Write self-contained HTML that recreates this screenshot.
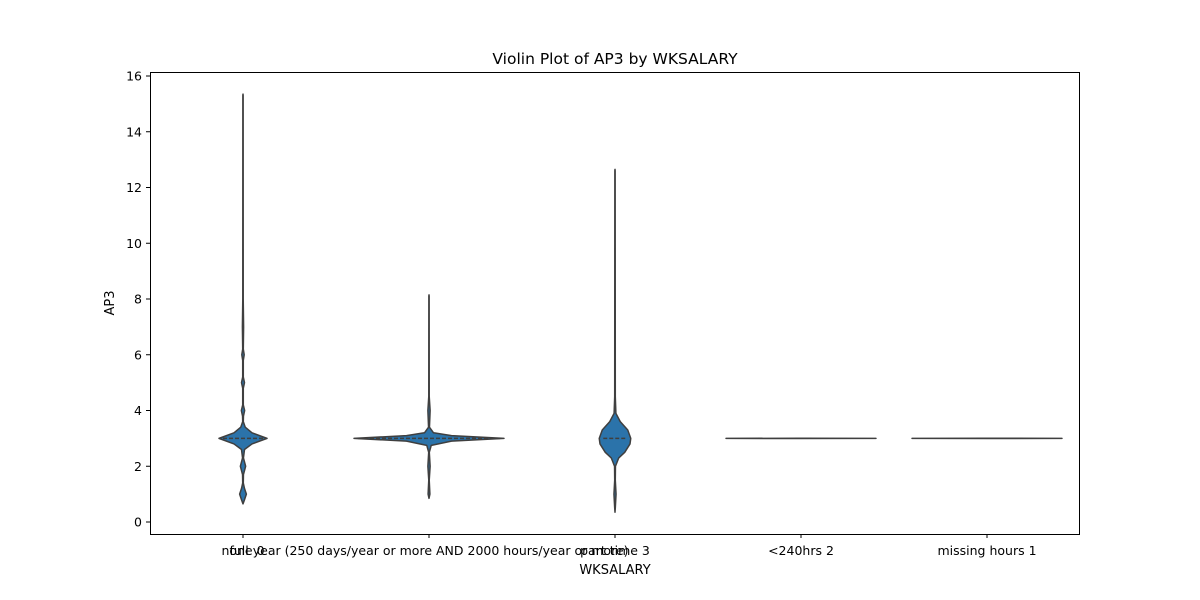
<!DOCTYPE html>
<html><head><meta charset="utf-8"><style>
body{margin:0;background:#fff;}
svg{display:block;font-family:"DejaVu Sans","Liberation Sans",sans-serif;}
</style></head><body>
<svg id="chart" width="1200" height="600">
<rect x="0" y="0" width="1200" height="600" fill="#fff"/>
<text x="615" y="64" font-size="15.5" text-anchor="middle" fill="#000">Violin Plot of AP3 by WKSALARY</text>
<g id="violins"></g>
<g id="yaxis"></g>
<g id="xaxis"></g>
<rect x="150.5" y="72.5" width="929" height="462" fill="none" stroke="#000" stroke-width="1"/>
<text x="615" y="574" font-size="13" text-anchor="middle">WKSALARY</text>
<text transform="translate(114,303) rotate(-90)" font-size="13" text-anchor="middle">AP3</text>
</svg>
<script>
const categories = ["none 0","full year (250 days/year or more AND 2000 hours/year or more)","part time 3","<240hrs 2","missing hours 1"];
const yTicks = [0,2,4,6,8,10,12,14,16];
const medians = [3,3,3,3,3];
// density profiles: [value, relative half-width (0..1)]
const profile0 = [[0.65,0],[0.8,0.02],[1.0,0.045],[1.2,0.02],[1.4,0.004],[1.7,0.006],[2.0,0.035],[2.3,0.006],[2.6,0.02],[2.8,0.12],[3.0,0.32],[3.2,0.12],[3.4,0.03],[3.6,0.004],[3.8,0.006],[4.0,0.022],[4.2,0.004],[4.8,0.004],[5.0,0.02],[5.2,0.004],[5.8,0.004],[6.0,0.016],[6.2,0.004],[7,0.008],[8,0.003],[15.3,0.002],[15.35,0]];
const profile1 = [[0.85,0],[1.0,0.012],[1.5,0.003],[2.0,0.015],[2.5,0.004],[2.75,0.03],[2.9,0.3],[3.0,1.0],[3.1,0.3],[3.2,0.06],[3.4,0.006],[4.0,0.015],[4.5,0.003],[8.1,0.002],[8.15,0]];
const profile2 = [[0.35,0],[0.5,0.004],[1.0,0.014],[1.5,0.004],[2.0,0.006],[2.3,0.05],[2.5,0.13],[2.8,0.2],[3.0,0.21],[3.3,0.17],[3.6,0.07],[3.9,0.012],[4.5,0.004],[12.6,0.002],[12.65,0]];
const profile3 = [[2.995,0],[3.0,1.0],[3.005,0]];
const profile4 = [[2.995,0],[3.0,1.0],[3.005,0]];
const profiles = [profile0,profile1,profile2,profile3,profile4];

const NS="http://www.w3.org/2000/svg";
const L=150,R=1080;
function yS(v){return 522-(v-0)*(522-76)/16;}
const step=(R-L)/categories.length;
function xS(i){return L+step*(i+0.5);}
const maxHalf=75;

const vg=document.getElementById('violins');
profiles.forEach((p,i)=>{
  const cx=xS(i);
  const right=p.map(d=>[cx+d[1]*maxHalf, yS(d[0])]);
  const left=p.slice().reverse().map(d=>[cx-d[1]*maxHalf, yS(d[0])]);
  const pts=right.concat(left);
  let dstr="M"+pts.map(q=>q[0].toFixed(2)+","+q[1].toFixed(2)).join("L")+"Z";
  const path=document.createElementNS(NS,'path');
  path.setAttribute('d',dstr);
  path.setAttribute('fill','#2b73aa');
  path.setAttribute('stroke','#3f3f3f');
  path.setAttribute('stroke-width','1.5');
  path.setAttribute('stroke-linejoin','round');
  
  
  vg.appendChild(path);
  const med=medians[i];
  let w=0; p.forEach(d=>{if(Math.abs(d[0]-med)<1e-9) w=d[1];});
  if(i<3){
    const ln=document.createElementNS(NS,'line');
    ln.setAttribute('x1',cx-w*maxHalf+4); ln.setAttribute('x2',cx+w*maxHalf-4);
    ln.setAttribute('y1',yS(med)); ln.setAttribute('y2',yS(med));
    ln.setAttribute('stroke','#3f3f3f'); ln.setAttribute('stroke-width','1.5');
    ln.setAttribute('stroke-dasharray','4,2');
    
    
    vg.appendChild(ln);
  }
});

const ya=document.getElementById('yaxis');
yTicks.forEach(t=>{
  const y=yS(t);
  const tk=document.createElementNS(NS,'line');
  tk.setAttribute('x1',146); tk.setAttribute('x2',150); tk.setAttribute('y1',y); tk.setAttribute('y2',y);
  tk.setAttribute('stroke','#000');
  
  
  ya.appendChild(tk);
  const tx=document.createElementNS(NS,'text');
  tx.setAttribute('x',142); tx.setAttribute('y',y+4.5); tx.setAttribute('font-size','12.5'); tx.setAttribute('text-anchor','end');
  tx.textContent=t;
  
  
  ya.appendChild(tx);
});
const xa=document.getElementById('xaxis');
categories.forEach((c,i)=>{
  const x=xS(i);
  const tk=document.createElementNS(NS,'line');
  tk.setAttribute('x1',x); tk.setAttribute('x2',x); tk.setAttribute('y1',534); tk.setAttribute('y2',538);
  tk.setAttribute('stroke','#000');
  
  
  xa.appendChild(tk);
  const tx=document.createElementNS(NS,'text');
  tx.setAttribute('x',x); tx.setAttribute('y',555); tx.setAttribute('font-size','12.5'); tx.setAttribute('text-anchor','middle');
  tx.textContent=c;
  
  
  xa.appendChild(tx);
});
</script>
</body></html>
